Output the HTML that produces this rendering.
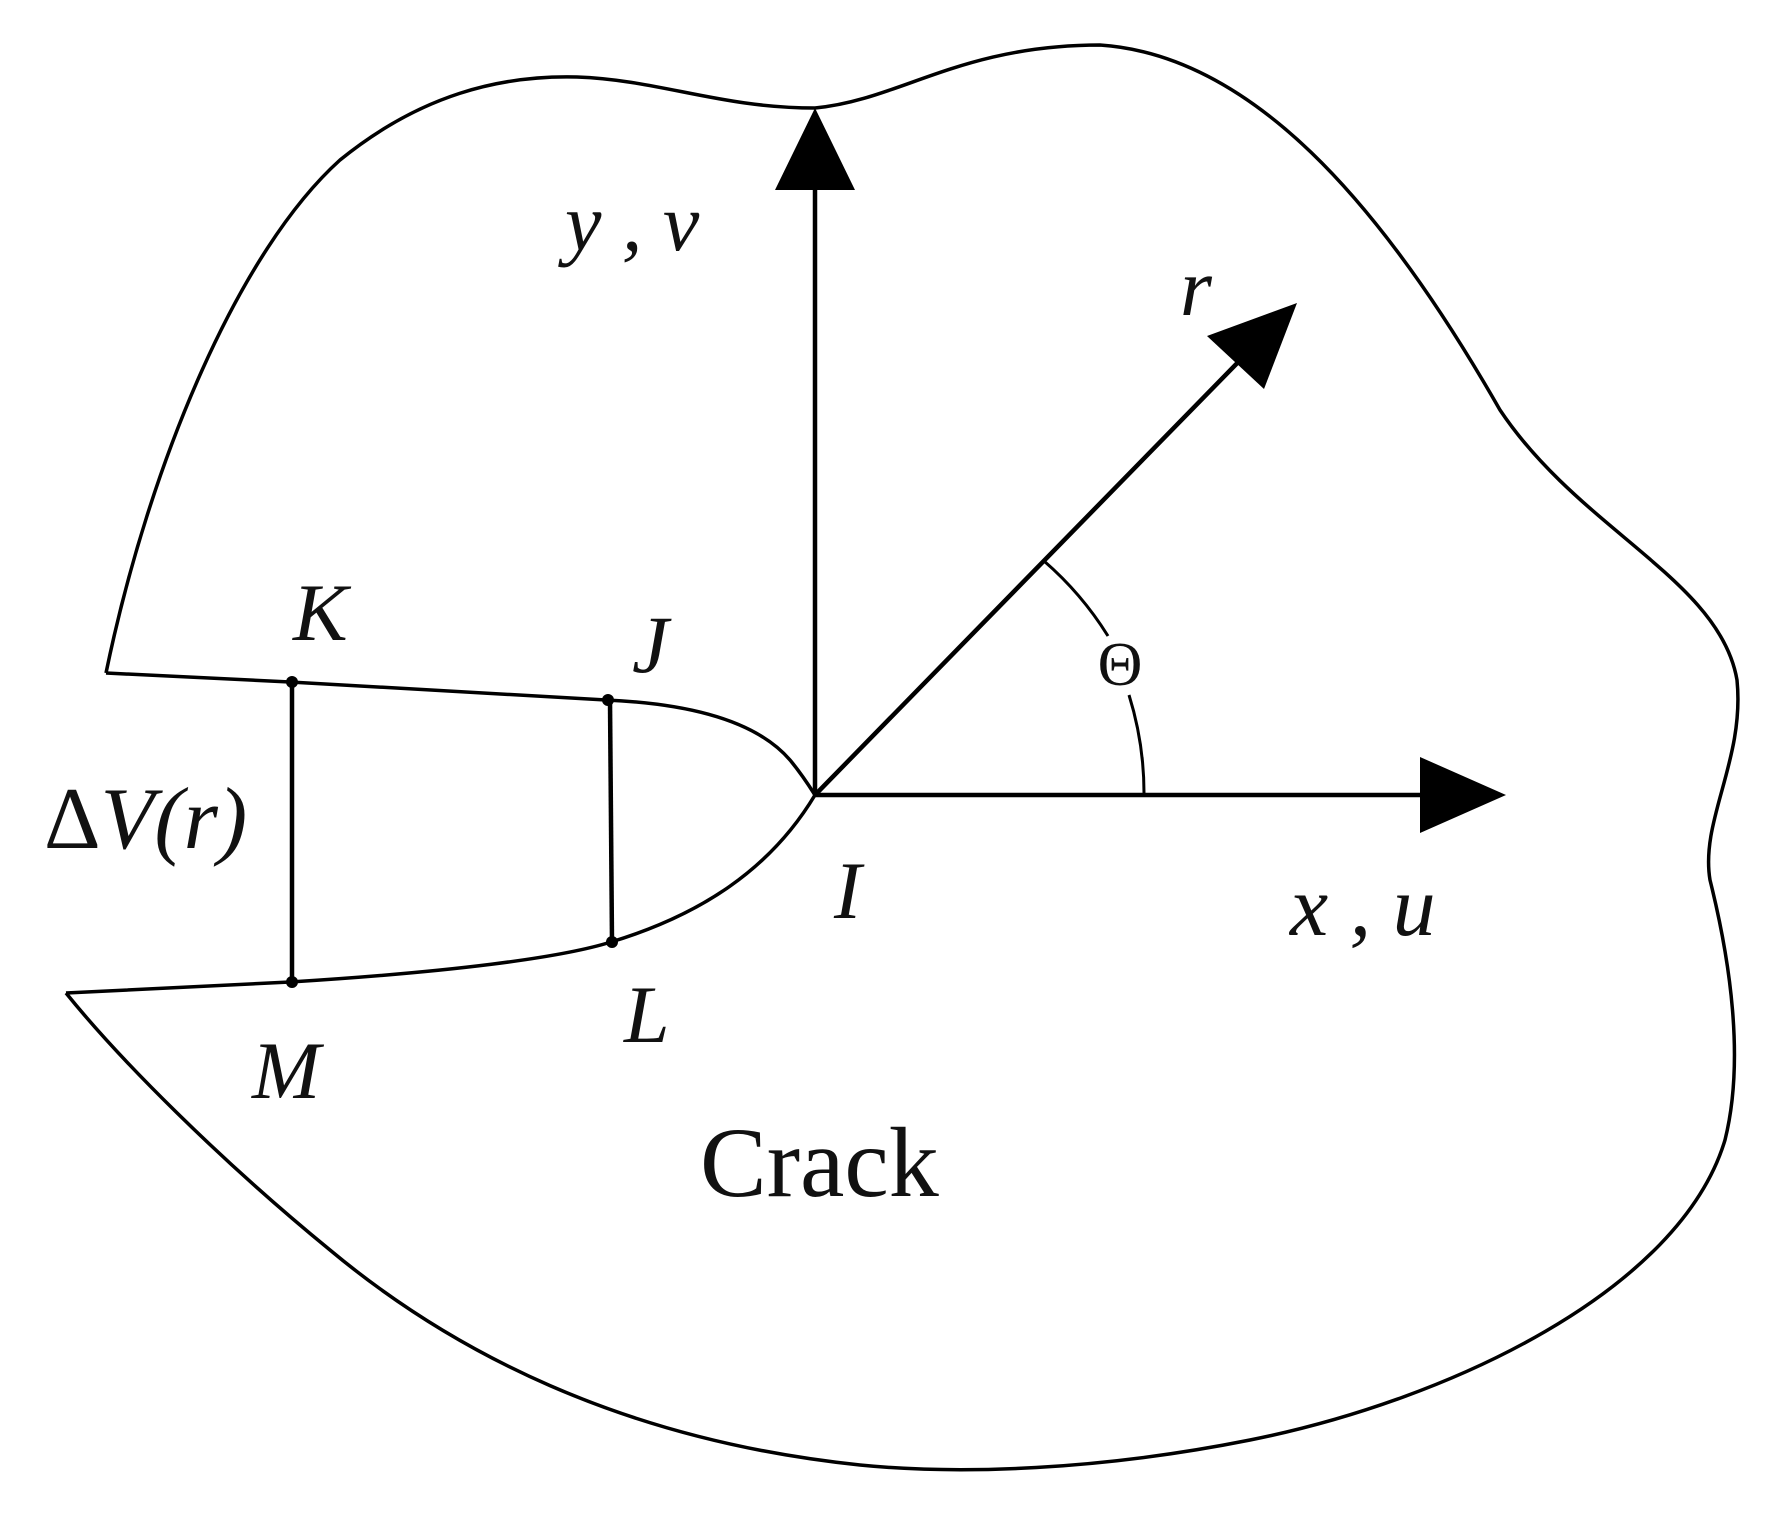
<!DOCTYPE html>
<html><head><meta charset="utf-8"><style>
html,body{margin:0;padding:0;background:#fff;}
svg{display:block;}
text{font-family:"Liberation Serif",serif;fill:#111;}
</style></head><body>
<svg width="1766" height="1516" viewBox="0 0 1766 1516" xmlns="http://www.w3.org/2000/svg">
<g fill="none" stroke="#000" stroke-width="3.5">
<path d="M106,673 C150,460 240,250 340,160 C420,95 500,75 577,77 C660,80 720,108 815,108 C900,100 960,45 1100,45 C1250,55 1380,200 1500,410 C1580,530 1720,580 1737,680 C1745,760 1700,820 1710,880 C1730,960 1745,1060 1725,1140 C1680,1290 1450,1400 1250,1440 C1100,1470 960,1475 860,1465 C620,1440 450,1350 330,1250 C220,1160 120,1060 66,993"/>
<path d="M106,673 L290,682 L606,700 C700,704 760,725 790,760 C800,772 808,784 815,795"/>
<path d="M66,993 L290,982 C450,972 560,958 611,942 C700,915 770,870 815,795"/>
</g>
<g fill="none" stroke="#000" stroke-width="4.5">
<line x1="292" y1="682" x2="292" y2="982"/>
<line x1="610" y1="701" x2="612" y2="942"/>
<line x1="815" y1="795" x2="815" y2="180"/>
<line x1="815" y1="795" x2="1430" y2="795"/>
<line x1="815" y1="795" x2="1250" y2="350"/>
</g>
<g fill="none" stroke="#000" stroke-width="3">
<path d="M1044,561 A329,329 0 0 1 1108,636"/>
<path d="M1129,695 A329,329 0 0 1 1144,795"/>
</g>
<g fill="#000">
<polygon points="815,108 775,190 855,190"/>
<polygon points="1506,795 1420,757 1420,833"/>
<polygon points="1297,303 1207,336 1264,389"/>
<circle cx="292" cy="682" r="6"/><circle cx="292" cy="982" r="6"/>
<circle cx="608" cy="700" r="6"/><circle cx="612" cy="942" r="6"/>
</g>
<g font-style="italic" font-size="82">
<text x="565" y="250">y , v</text>
<text x="1180" y="315">r</text>
<text x="293" y="640">K</text>
<text x="632" y="672">J</text>
<text x="834" y="918">I</text>
<text x="1290" y="935" font-size="86" xml:space="preserve">x , u</text>
<text x="624" y="1042">L</text>
<text x="252" y="1098">M</text>
</g>
<text x="44" y="848" font-size="88">Δ<tspan font-style="italic">V(r)</tspan></text>
<text x="1120" y="685" font-size="62" text-anchor="middle">Θ</text>
<text x="700" y="1196" font-size="100">Crack</text>
</svg>
</body></html>
